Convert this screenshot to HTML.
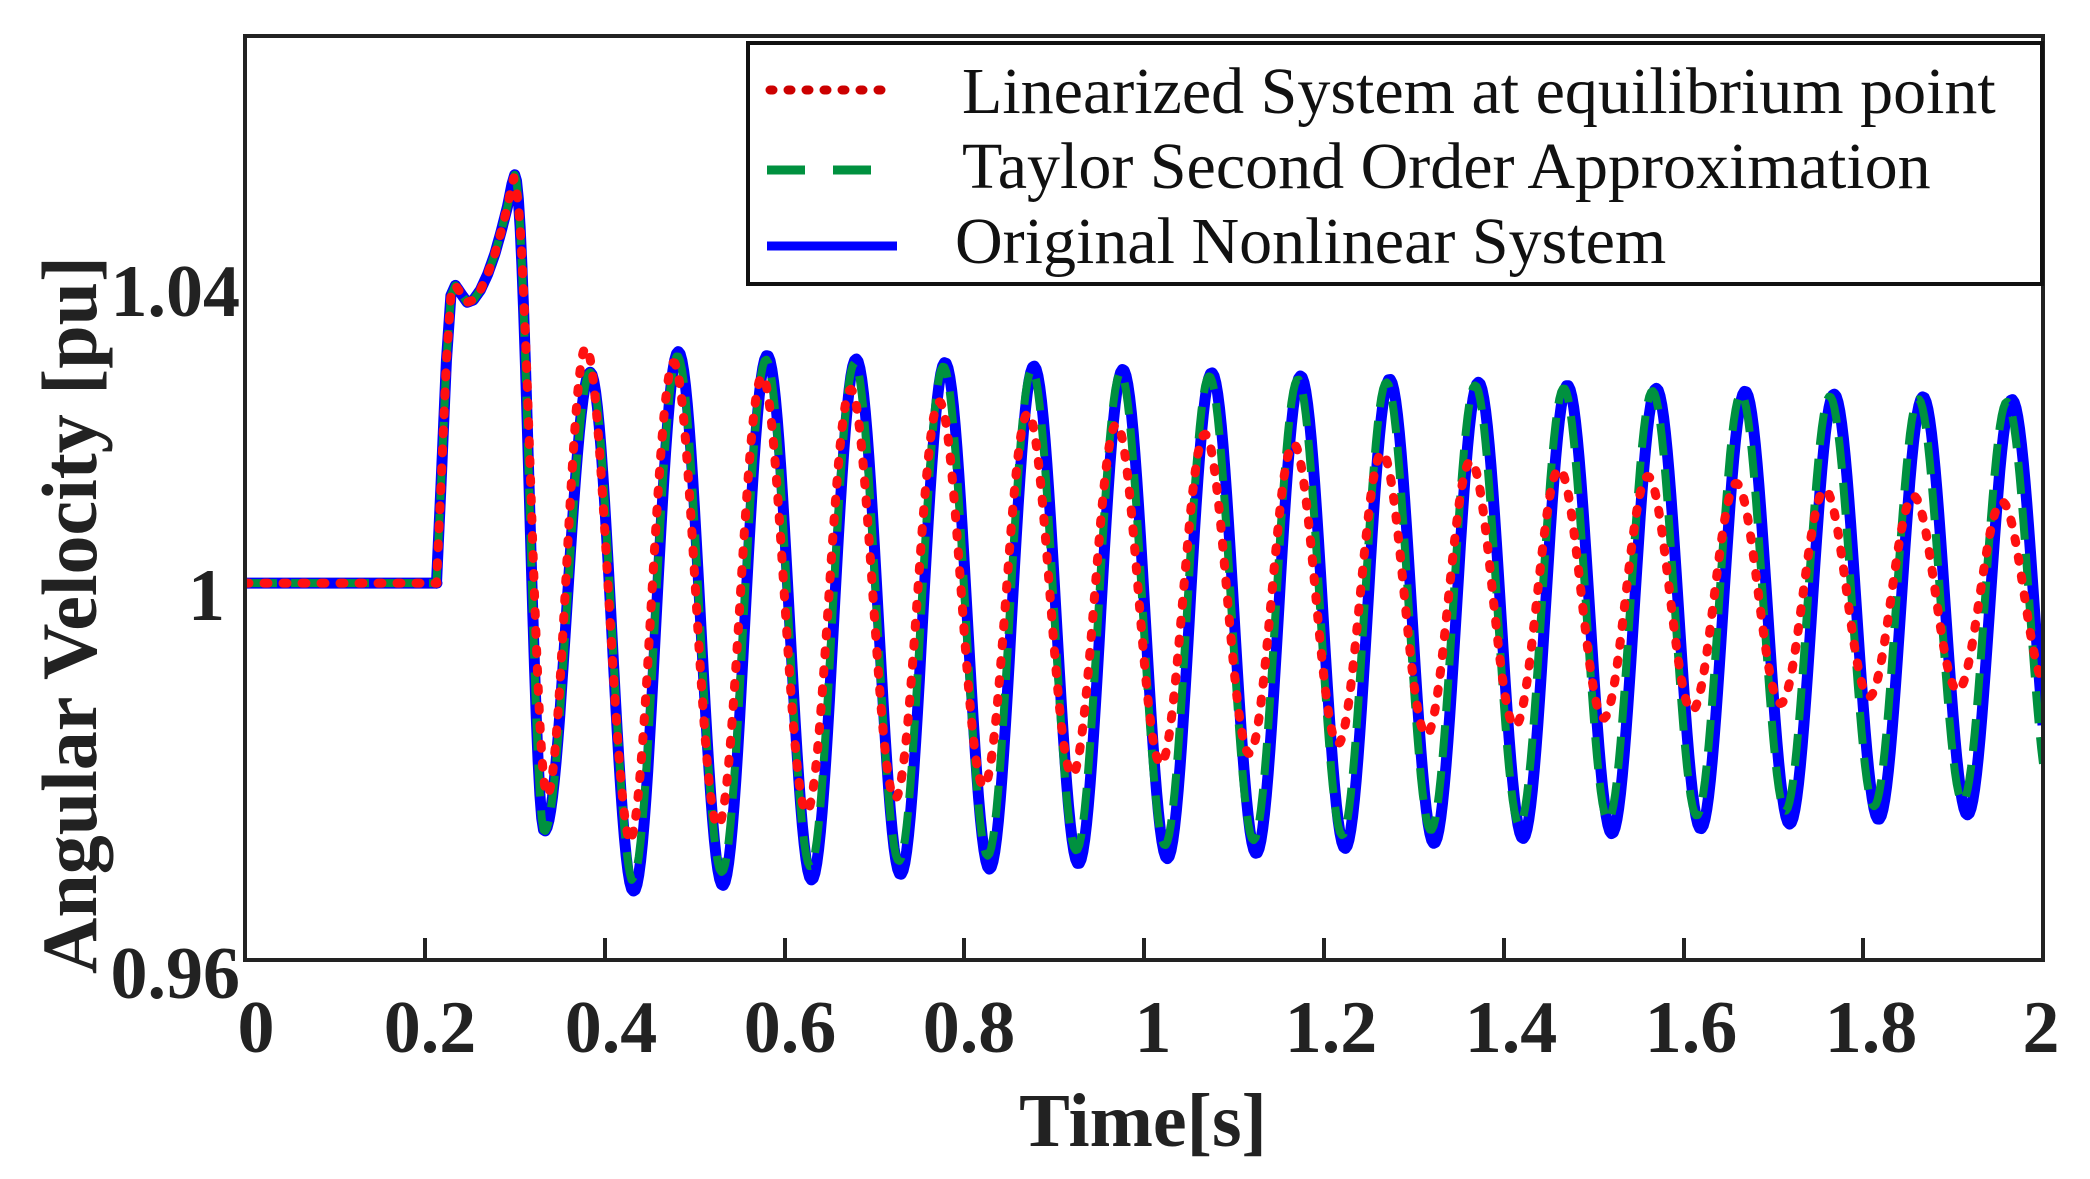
<!DOCTYPE html>
<html><head><meta charset="utf-8"><style>
html,body{margin:0;padding:0;background:#fff;}
svg{display:block;}
.t{font-family:"Liberation Serif",serif;font-weight:bold;fill:#222;}
.l{font-family:"Liberation Serif",serif;fill:#111;font-size:66px;}
</style></head><body>
<svg id="s" width="2090" height="1179" viewBox="0 0 2090 1179" xmlns="http://www.w3.org/2000/svg">
<defs><clipPath id="c"><rect x="245" y="36" width="1798" height="924"/></clipPath></defs>
<g clip-path="url(#c)" fill="none" stroke-linejoin="round">
<path id="pb" stroke="#0000ff" stroke-width="11"/>
<path id="pg" stroke="#00913f" stroke-width="8" stroke-dasharray="32 14"/>
<path id="pr" stroke="#ff1010" stroke-width="9" stroke-linecap="round" stroke-dasharray="4 15"/>
</g>
<rect x="245" y="36" width="1798" height="924" fill="none" stroke="#222" stroke-width="4"/>
<g stroke="#222" stroke-width="4">
<line x1="425" y1="960" x2="425" y2="938"/><line x1="605" y1="960" x2="605" y2="938"/>
<line x1="785" y1="960" x2="785" y2="938"/><line x1="964" y1="960" x2="964" y2="938"/>
<line x1="1144" y1="960" x2="1144" y2="938"/><line x1="1324" y1="960" x2="1324" y2="938"/>
<line x1="1504" y1="960" x2="1504" y2="938"/><line x1="1684" y1="960" x2="1684" y2="938"/>
<line x1="1863" y1="960" x2="1863" y2="938"/>
</g>
<rect x="748" y="43" width="1294" height="241" fill="#fff" stroke="#111" stroke-width="4"/>
<line x1="770" y1="90" x2="895" y2="90" stroke="#cc0000" stroke-width="9" stroke-linecap="round" stroke-dasharray="3 15"/>
<line x1="767" y1="170" x2="897" y2="170" stroke="#00913f" stroke-width="9" stroke-dasharray="38 28"/>
<line x1="767" y1="246" x2="897" y2="246" stroke="#0000ff" stroke-width="9"/>
<text class="l" x="962" y="113">Linearized System at equilibrium point</text>
<text class="l" x="962" y="188">Taylor Second Order Approximation</text>
<text class="l" x="955" y="263">Original Nonlinear System</text>
<g class="t" font-size="74">
<text x="240" y="316" text-anchor="end">1.04</text>
<text x="225" y="620" text-anchor="end">1</text>
<text x="240" y="998" text-anchor="end">0.96</text>
</g>
<g class="t" font-size="74" text-anchor="middle">
<text x="256" y="1052">0</text><text x="430" y="1052">0.2</text><text x="611" y="1052">0.4</text>
<text x="790" y="1052">0.6</text><text x="969" y="1052">0.8</text><text x="1153" y="1052">1</text>
<text x="1331" y="1052">1.2</text><text x="1511" y="1052">1.4</text><text x="1691" y="1052">1.6</text>
<text x="1871" y="1052">1.8</text><text x="2041" y="1052">2</text>
</g>
<text class="t" font-size="76" x="1143" y="1146" text-anchor="middle">Time[s]</text>
<text class="t" font-size="78" transform="translate(96,615) rotate(-90)" text-anchor="middle">Angular Velocity [pu]</text>
</svg>
<script>
var K=1.128;
function X(t){return 245+t*899;}
function interp(pts,t){for(var i=0;i<pts.length-1;i++){if(t<=pts[i+1][0]){var a=pts[i],b=pts[i+1],u=(t-a[0])/(b[0]-a[0]);u=(1-Math.cos(Math.PI*u))/2;return a[1]+(b[1]-a[1])*u;}}return pts[pts.length-1][1];}
function lin(pts,t){for(var i=0;i<pts.length-1;i++){if(t<=pts[i+1][0]){var a=pts[i],b=pts[i+1],u=(t-a[0])/(b[0]-a[0]);return a[1]+(b[1]-a[1])*u;}}return pts[pts.length-1][1];}
function build(pre,t0,A0,A1,c0,c1,tp,T){
 var d="M245,"+(517*K)+" L437,"+(517*K);
 var head=[[0.213,517],[0.218,430],[0.224,320],[0.229,262],[0.234,253],[0.24,260],[0.247,268],[0.254,266],[0.262,257],[0.27,243],[0.278,225],[0.285,205],[0.292,183],[0.297,163],[0.3,155]];
 for(var t=0.213;t<=0.3;t+=0.001)d+=" L"+X(t).toFixed(1)+","+(K*lin(head,t)).toFixed(1);
 for(var t=0.3;t<=t0;t+=0.002)d+=" L"+X(t).toFixed(1)+","+(K*interp(pre,t)).toFixed(1);
 var dd=Math.log(A0/A1)/(2-t0);
 for(var t=t0;t<=2.001;t+=0.002){var A=A0*Math.exp(-dd*(t-t0));var c=c0+(c1-c0)*(t-t0)/(2-t0);
  var y=c-A*Math.cos(2*Math.PI*(t-tp)/T);d+=" L"+X(t).toFixed(1)+","+(K*y).toFixed(1);}
 return d;}
var T=0.0989;
document.getElementById('pb').setAttribute('d',build([[0.3,155],[0.333,737],[0.384,330],[0.432,790]],0.432,240,182,550,537,0.482,T));
document.getElementById('pg').setAttribute('d',build([[0.3,155],[0.333,737],[0.384,330],[0.432,782]],0.432,232,175,546,532,0.481,0.0986));
document.getElementById('pr').setAttribute('d',build([[0.3,165],[0.336,705],[0.379,308],[0.43,748]],0.43,215,80,530,527,0.477,0.0985));
</script>
</body></html>
